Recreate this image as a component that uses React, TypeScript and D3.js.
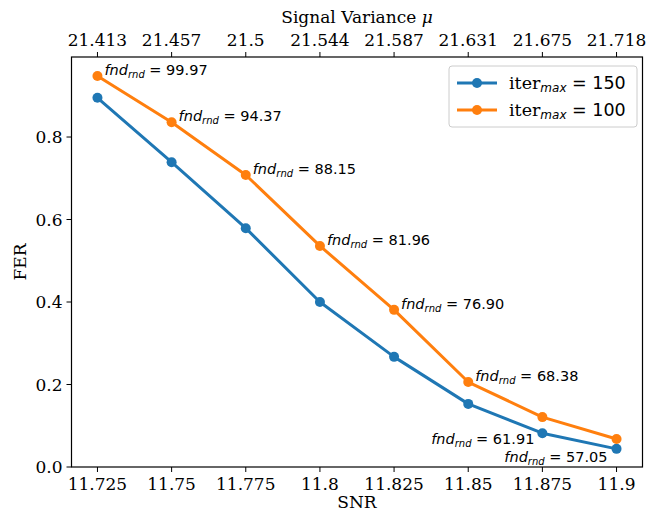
import React from "react";
import * as d3 from "d3";

const snr = [11.725, 11.75, 11.775, 11.8, 11.825, 11.85, 11.875, 11.9];
const variance = ["21.413", "21.457", "21.5", "21.544", "21.587", "21.631", "21.675", "21.718"];
const snrLabels = ["11.725", "11.75", "11.775", "11.8", "11.825", "11.85", "11.875", "11.9"];
const fer150 = [0.895, 0.739, 0.579, 0.4, 0.267, 0.153, 0.082, 0.044];
const fer100 = [0.948, 0.836, 0.708, 0.536, 0.381, 0.206, 0.121, 0.068];
const fndOrange = ["99.97", "94.37", "88.15", "81.96", "76.90", "68.38"];
const fndBlue = ["61.91", "57.05"]; // for blue points index 6, 7
const yTicks = [0, 0.2, 0.4, 0.6, 0.8];

const BLUE = "#1f77b4";
const ORANGE = "#ff7f0e";
const SERIF = "'DejaVu Serif', serif";
const SANS = "'DejaVu Sans', sans-serif";

const L = 71.5, R = 642.5, T = 57, B = 467;

function Fnd({ x, y, value, anchor }: { x: number; y: number; value: string; anchor: string }) {
  return (
    <text x={x} y={y} fontFamily={SANS} fontSize={14.5} textAnchor={anchor} fill="#000">
      <tspan fontStyle="italic">fnd</tspan>
      <tspan fontStyle="italic" fontSize={10} dy={3}>rnd</tspan>
      <tspan dy={-3}>{" = " + value}</tspan>
    </text>
  );
}

export default function App() {
  const x = d3.scaleLinear().domain([11.71625, 11.90875]).range([L, R]);
  const y = d3.scaleLinear().domain([0, 0.994]).range([B, T]);
  const line = d3.line<number>().x((_, i) => x(snr[i])).y((d) => y(d));

  return (
    <svg width={650} height={513} style={{ position: "absolute", left: 0, top: 0, background: "#fff" }}>
      {[{ d: fer150, c: BLUE }, { d: fer100, c: ORANGE }].map((s, k) => (
        <g key={k}>
          <path d={line(s.d) || ""} fill="none" stroke={s.c} strokeWidth={3} strokeLinejoin="round" />
          {s.d.map((v, i) => (
            <circle key={i} cx={x(snr[i])} cy={y(v)} r={5} fill={s.c} />
          ))}
        </g>
      ))}
      {fndOrange.map((v, i) => (
        <Fnd key={i} x={x(snr[i]) + 7} y={y(fer100[i]) - 1} value={v} anchor="start" />
      ))}
      <Fnd x={x(snr[6]) - 8} y={y(fer150[6]) + 11} value={fndBlue[0]} anchor="end" />
      <Fnd x={x(snr[7]) - 9} y={y(fer150[7]) + 13} value={fndBlue[1]} anchor="end" />

      <rect x={L} y={T} width={R - L} height={B - T} fill="none" stroke="#000" strokeWidth={1.2} />

      {snr.map((v, i) => (
        <g key={i}>
          <line x1={x(v)} x2={x(v)} y1={B} y2={B + 5} stroke="#000" strokeWidth={1} />
          <text x={x(v)} y={B + 23} textAnchor="middle" fontFamily={SERIF} fontSize={17}>{snrLabels[i]}</text>
          <line x1={x(v)} x2={x(v)} y1={T} y2={T - 5} stroke="#000" strokeWidth={1} />
          <text x={x(v)} y={T - 11} textAnchor="middle" fontFamily={SERIF} fontSize={17}>{variance[i]}</text>
        </g>
      ))}
      {yTicks.map((v, i) => (
        <g key={i}>
          <line x1={L} x2={L - 5} y1={y(v)} y2={y(v)} stroke="#000" strokeWidth={1} />
          <text x={L - 9} y={y(v) + 6} textAnchor="end" fontFamily={SERIF} fontSize={17}>{d3.format(".1f")(v)}</text>
        </g>
      ))}
      <text x={(L + R) / 2} y={508} textAnchor="middle" fontFamily={SERIF} fontSize={17}>SNR</text>
      <text transform={`translate(26,${(T + B) / 2}) rotate(-90)`} textAnchor="middle" fontFamily={SERIF} fontSize={17}>FER</text>
      <text x={(L + R) / 2} y={23} textAnchor="middle" fontFamily={SERIF} fontSize={17}>
        Signal Variance <tspan fontStyle="italic">μ</tspan>
      </text>

      <rect x={449} y={66} width={188} height={61} rx={3} fill="#fff" fillOpacity={0.8} stroke="#cccccc" strokeWidth={1} />
      {[{ c: BLUE, v: "150", yy: 83 }, { c: ORANGE, v: "100", yy: 110 }].map((e, i) => (
        <g key={i}>
          <line x1={457} x2={497} y1={e.yy} y2={e.yy} stroke={e.c} strokeWidth={3} />
          <circle cx={477} cy={e.yy} r={5} fill={e.c} />
          <text x={509} y={e.yy + 6} fontSize={17.5} fill="#000">
            <tspan fontFamily={SERIF}>iter</tspan>
            <tspan fontFamily={SANS} fontStyle="italic" fontSize={12} dy={3}>max</tspan>
            <tspan fontFamily={SANS} dy={-3}>{" = " + e.v}</tspan>
          </text>
        </g>
      ))}
    </svg>
  );
}
